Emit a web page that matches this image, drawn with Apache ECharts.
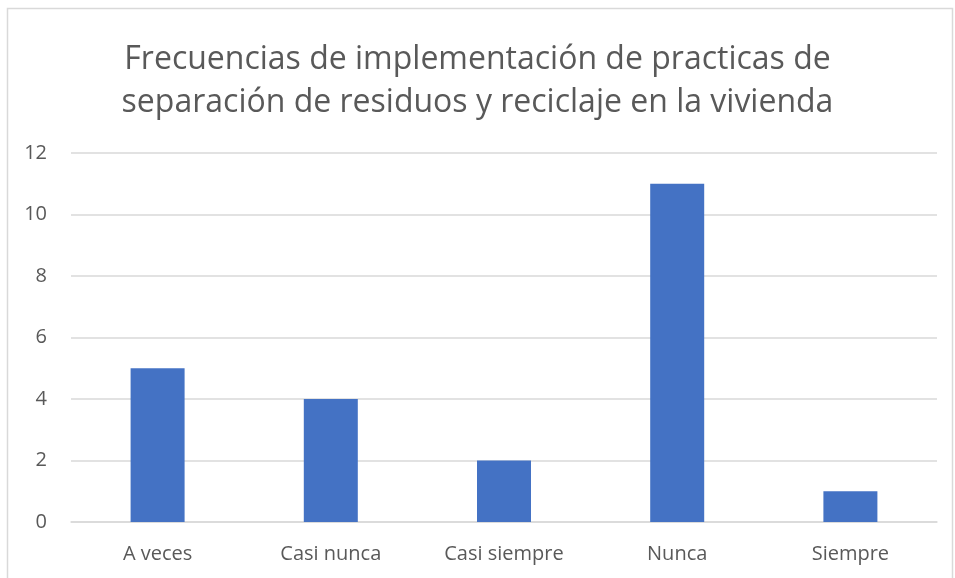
<!DOCTYPE html>
<html>
<head>
<meta charset="utf-8">
<script src="https://cdn.jsdelivr.net/npm/echarts@6/dist/echarts.min.js"></script>
<style>
  html, body { margin: 0; padding: 0; background: #fff; }
  #chart { width: 955px; height: 578px; }
</style>
</head>
<body>
<div id="chart"></div>
<script>
const categories = ["A veces", "Casi nunca", "Casi siempre", "Nunca", "Siempre"]
const frequencies = [5, 4, 2, 11, 1]
const titleLines = ["Frecuencias de implementación de practicas de", "separación de residuos y reciclaje en la vivienda"]

const chart = echarts.init(document.getElementById("chart"))
const textColor = "#595959"
const font = "'Open Sans', 'Liberation Sans', sans-serif"

chart.setOption({
  animation: false,
  graphic: [{
    type: "rect",
    silent: true,
    shape: { x: 7.5, y: 8.5, width: 945, height: 600 },
    style: { fill: "none", stroke: "#d9d9d9", lineWidth: 1.5 }
  }],
  title: {
    text: titleLines.join("\n"),
    left: "center",
    top: 33,
    textStyle: {
      color: textColor,
      fontFamily: font,
      fontWeight: "normal",
      fontSize: 32,
      lineHeight: 43
    }
  },
  grid: { left: 71, right: 18, top: 153, bottom: 56 },
  xAxis: {
    type: "category",
    data: categories,
    axisLine: { lineStyle: { color: "#d9d9d9", width: 1.5 } },
    axisTick: { show: false },
    axisLabel: { color: textColor, fontFamily: font, fontSize: 20, margin: 22 }
  },
  yAxis: {
    type: "value",
    min: 0,
    max: 12,
    interval: 2,
    axisLine: { show: false },
    axisTick: { show: false },
    splitLine: { lineStyle: { color: "#d9d9d9", width: 1.5 } },
    axisLabel: { color: textColor, fontFamily: font, fontSize: 20, margin: 24 }
  },
  series: [{
    type: "bar",
    data: frequencies,
    barWidth: 54,
    itemStyle: { color: "#4472c4" }
  }]
})
</script>
</body>
</html>
